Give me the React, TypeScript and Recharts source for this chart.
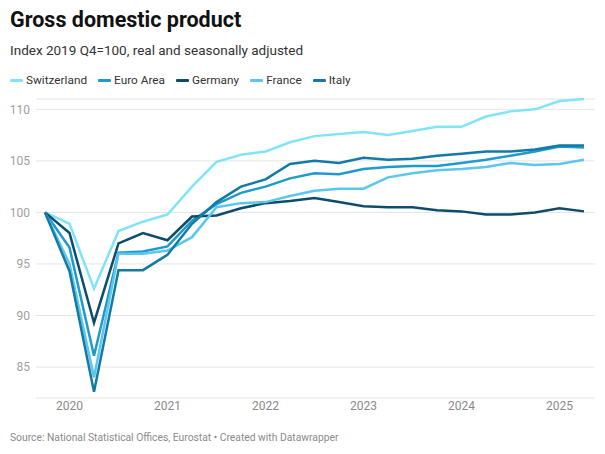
import React from 'react'
import { LineChart, Line, XAxis, YAxis, CartesianGrid } from 'recharts'

const quarters = [
  '2019 Q4',
  '2020 Q1', '2020 Q2', '2020 Q3', '2020 Q4',
  '2021 Q1', '2021 Q2', '2021 Q3', '2021 Q4',
  '2022 Q1', '2022 Q2', '2022 Q3', '2022 Q4',
  '2023 Q1', '2023 Q2', '2023 Q3', '2023 Q4',
  '2024 Q1', '2024 Q2', '2024 Q3', '2024 Q4',
  '2025 Q1', '2025 Q2',
]

const switzerland = [100, 98.9, 92.6, 98.2, 99.1, 99.8, 102.5, 104.9, 105.6, 105.9, 106.8, 107.4, 107.6, 107.8, 107.5, 107.9, 108.3, 108.3, 109.3, 109.8, 110.0, 110.8, 111.0]
const euroArea = [100, 96.6, 86.1, 96.1, 96.2, 96.7, 99.2, 100.8, 101.9, 102.5, 103.3, 103.8, 103.7, 104.2, 104.4, 104.5, 104.5, 104.8, 105.1, 105.5, 105.9, 106.4, 106.3]
const germany = [100, 98.0, 89.3, 97.0, 98.0, 97.3, 99.6, 99.7, 100.4, 100.9, 101.1, 101.4, 101.0, 100.6, 100.5, 100.5, 100.2, 100.1, 99.8, 99.8, 100.0, 100.4, 100.1]
const france = [100, 95.0, 84.0, 96.0, 96.0, 96.3, 97.6, 100.5, 100.9, 101.0, 101.6, 102.1, 102.3, 102.3, 103.4, 103.8, 104.1, 104.2, 104.4, 104.8, 104.6, 104.7, 105.1]
const italy = [100, 94.3, 82.6, 94.4, 94.4, 95.9, 98.9, 101.0, 102.5, 103.2, 104.7, 105.0, 104.8, 105.3, 105.1, 105.2, 105.5, 105.7, 105.9, 105.9, 106.1, 106.5, 106.5]

const yTicks = [85, 90, 95, 100, 105, 110]
const xTicks = ['2020 Q1', '2021 Q1', '2022 Q1', '2023 Q1', '2024 Q1', '2025 Q1']

const series = [
  { key: 'Switzerland', values: switzerland, color: '#80e4f8' },
  { key: 'Euro Area', values: euroArea, color: '#1e9acd' },
  { key: 'Germany', values: germany, color: '#0d4c6c' },
  { key: 'France', values: france, color: '#5cc6ee' },
  { key: 'Italy', values: italy, color: '#137aa6' },
]

const data = quarters.map((q, i) => {
  const row: Record<string, any> = { quarter: q }
  series.forEach((s) => {
    row[s.key] = s.values[i]
  })
  return row
})

const FONT = 'Roboto, "Noto Sans", sans-serif'

export default function App() {
  return (
    <div style={styles.page}>
      <div style={styles.title}>Gross domestic product</div>
      <div style={styles.subtitle}>Index 2019 Q4=100, real and seasonally adjusted</div>
      <div style={styles.legend}>
        {series.map((s) => (
          <div key={s.key} style={styles.legendItem}>
            <span style={{ ...styles.legendMark, background: s.color }} />
            <span>{s.key}</span>
          </div>
        ))}
      </div>
      <div style={styles.chart}>
        <LineChart
          width={605}
          height={454}
          data={data}
          margin={{ top: 99, right: 10, left: 0, bottom: 36 }}
        >
          <CartesianGrid vertical={false} stroke="#e4e4e4" strokeWidth={1} />
          <XAxis
            dataKey="quarter"
            ticks={xTicks}
            interval={0}
            tickFormatter={(v) => String(v).slice(0, 4)}
            axisLine={false}
            tickLine={false}
            tickSize={0}
            tickMargin={3}
            height={20}
            padding={{ left: 9, right: 11 }}
            tick={{ fill: '#8a8a8a', fontSize: 12, fontFamily: FONT }}
          />
          <YAxis
            domain={[82, 111]}
            ticks={yTicks}
            axisLine={false}
            tickLine={false}
            tickSize={0}
            tickMargin={6}
            width={36}
            tick={{ fill: '#a0a0a0', fontSize: 12, fontFamily: FONT }}
          />
          {series.map((s) => (
            <Line
              key={s.key}
              dataKey={s.key}
              stroke={s.color}
              strokeWidth={2.5}
              dot={false}
              type="linear"
              isAnimationActive={false}
            />
          ))}
        </LineChart>
      </div>
      <div style={styles.source}>
        Source: National Statistical Offices, Eurostat • Created with Datawrapper
      </div>
    </div>
  )
}

const styles: Record<string, React.CSSProperties> = {
  page: {
    position: 'absolute',
    left: 0,
    top: 0,
    width: 605,
    height: 454,
    background: '#fff',
    fontFamily: FONT,
    overflow: 'hidden',
  },
  title: {
    position: 'absolute',
    left: 10,
    top: 7,
    fontSize: 21.5,
    fontWeight: 700,
    color: '#111',
    whiteSpace: 'nowrap',
  },
  subtitle: {
    position: 'absolute',
    left: 10,
    top: 42,
    fontSize: 13.5,
    color: '#333',
    whiteSpace: 'nowrap',
  },
  legend: {
    position: 'absolute',
    left: 10,
    top: 73,
    display: 'flex',
    fontSize: 11.8,
    color: '#333',
    whiteSpace: 'nowrap',
  },
  legendItem: {
    display: 'flex',
    alignItems: 'center',
    marginRight: 11,
  },
  legendMark: {
    display: 'inline-block',
    width: 13,
    height: 3,
    borderRadius: 1,
    marginRight: 3,
  },
  chart: {
    position: 'absolute',
    left: 0,
    top: 0,
  },
  source: {
    position: 'absolute',
    left: 10,
    top: 431,
    fontSize: 10.3,
    color: '#8a8a8a',
    whiteSpace: 'nowrap',
  },
}
